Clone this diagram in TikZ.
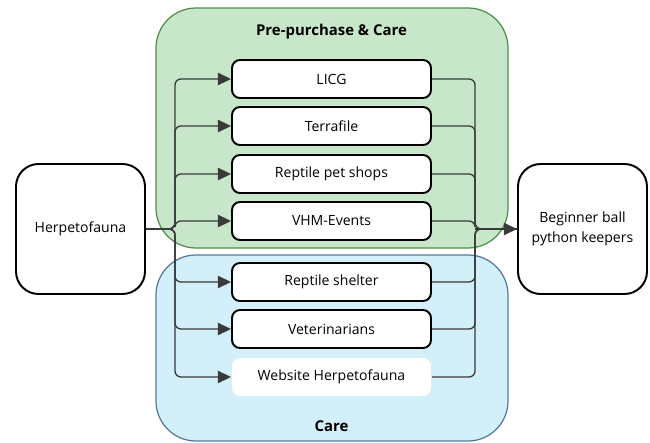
\documentclass[tikz,border=0pt]{standalone}
\usepackage{fontspec}
\setmainfont{Open Sans}
\usetikzlibrary{arrows.meta}

\definecolor{grpgreen}{HTML}{C8E6C9}
\definecolor{grpgreenline}{HTML}{4F8F48}
\definecolor{grpblue}{HTML}{D3EFFA}
\definecolor{grpblueline}{HTML}{55789F}
\definecolor{wire}{HTML}{3A3A3A}

\begin{document}
\begin{tikzpicture}[
  x=0.02cm, y=-0.02cm,
  >={Triangle[length=7.5pt, width=7pt]},
  group/.style={rounded corners=0.8cm, line width=0.7pt},
  grptitle/.style={font=\fontsize{8.5}{10}\selectfont\bfseries},
  endbox/.style={draw=black, line width=1.1pt, fill=white, rounded corners=0.45cm,
    minimum width=2.58cm, minimum height=2.6cm, align=center,
    font=\fontsize{8}{11}\selectfont},
  source/.style={draw=black, line width=1.1pt, fill=white, rounded corners=0.16cm,
    minimum width=3.98cm, minimum height=0.76cm, font=\fontsize{8}{10}\selectfont},
  plain/.style={source, draw=none},
  conn/.style={draw=wire, line width=0.75pt, rounded corners=0.12cm},
]
\useasboundingbox (0,0) rectangle (650,443);

% ── Parameters (pixels) ─────────────────────────────────────────────────────
\def\xmid{331.5}   % centre column of the channel boxes
\def\xlbus{175}    % left distribution bus
\def\xrbus{475}    % right collecting bus
\def\ymain{229}    % height of the main flow line

% ── Groups ─────────────────────────────────────────────────────────────────
\draw[group, fill=grpgreen, draw=grpgreenline] (156,8) rectangle (508,248);
\draw[group, fill=grpblue, draw=grpblueline] (156,255) rectangle (508,441);
\node[grptitle] (pretitle) at (\xmid,32) {Pre-purchase \& Care};
\node[grptitle] (caretitle) at (\xmid,426) {Care};

% ── End points ─────────────────────────────────────────────────────────────
\node[endbox] (herp) at (80.5,\ymain) {Herpetofauna};
\node[endbox] (keepers) at (582.5,\ymain) {Beginner ball\\python keepers};

% ── Channels ───────────────────────────────────────────────────────────────
\node[source] (licg)    at (\xmid,79)  {LICG};
\node[source] (terra)   at (\xmid,126) {Terrafile};
\node[source] (shops)   at (\xmid,174) {Reptile pet shops};
\node[source] (vhm)     at (\xmid,221) {VHM-Events};
\node[source] (shelter) at (\xmid,282) {Reptile shelter};
\node[source] (vets)    at (\xmid,329) {Veterinarians};
\node[plain]  (site)    at (\xmid,377) {Website Herpetofauna};

\coordinate (lbus) at (\xlbus,\ymain);
\coordinate (rbus) at (\xrbus,\ymain);

% ── Wiring ─────────────────────────────────────────────────────────────────
\foreach \ch in {licg,terra,shops,vhm,shelter,vets,site} {
  \draw[conn, ->] (herp.east) -- (lbus) |- (\ch.west);
  \draw[conn] (\ch.east) -| (rbus) -- (keepers.west);
}
\draw[conn, ->] (rbus) -- (keepers.west);

\end{tikzpicture}
\end{document}
